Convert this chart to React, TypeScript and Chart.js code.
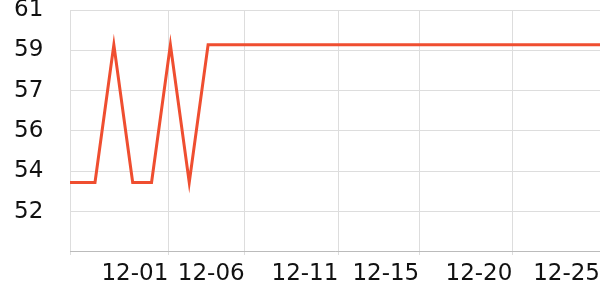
import React, { useEffect, useRef } from "react";
import { Chart, registerables } from "chart.js";

Chart.register(...registerables);

// sample index (one sample per step) and value
const sampleIndex = [0, 1, 2, 3, 4, 5, 6, 7, 8, 9, 10, 11, 12, 13, 14, 15, 16, 17, 18, 19, 20, 21, 22, 23, 24, 25, 26, 27, 28, 29];
const sampleValues = [
  53.3, 53.3, 53.3, 59.45, 53.3, 53.3, 59.45, 53.3, 59.45, 59.45,
  59.45, 59.45, 59.45, 59.45, 59.45, 59.45, 59.45, 59.45, 59.45, 59.45,
  59.45, 59.45, 59.45, 59.45, 59.45, 59.45, 59.45, 59.45, 59.45, 59.45,
];

// x axis: visible window and date ticks (in sample-index units)
const xWindow = [0.674, 28.79];
const xTickValues = [0.674, 5.89, 9.94, 14.91, 19.2, 24.14, 28.79];
const xTickLabels = ["", "12-01", "12-06", "12-11", "12-15", "12-20", "12-25"];

// y axis
const yWindow = [50.2, 61];
const yTickValues = [50.2, 52, 53.8, 55.6, 57.4, 59.2, 61];
const yTickLabels = ["", "52", "54", "56", "57", "59", "61"];

export default function App() {
  const ref = useRef<HTMLCanvasElement | null>(null);

  useEffect(() => {
    if (!ref.current) return;
    const chart = new Chart(ref.current, {
      type: "line",
      data: {
        datasets: [
          {
            data: sampleIndex.map((x, i) => ({ x, y: sampleValues[i] })),
            borderColor: "#ef4e30",
            borderWidth: 3,
            pointRadius: 0,
            tension: 0,
            fill: false,
          },
        ],
      },
      options: {
        animation: false,
        responsive: false,
        maintainAspectRatio: false,
        layout: { padding: { left: 14, right: 0, top: 0, bottom: 6 } },
        plugins: { legend: { display: false }, tooltip: { enabled: false } },
        scales: {
          x: {
            type: "linear",
            min: xWindow[0],
            max: xWindow[1],
            afterBuildTicks: (scale: any) => {
              scale.ticks = xTickValues.map((v) => ({ value: v }));
            },
            ticks: {
              autoSkip: false,
              maxRotation: 0,
              align: "end",
              padding: 0,
              color: "#111",
              font: { family: "DejaVu Sans", size: 23, lineHeight: 1.696 },
              callback: (_v: any, i: number) => xTickLabels[i],
            },
            grid: { color: "#dddddd", tickLength: 3, drawTicks: true },
            border: { color: "#bbbbbb" },
          },
          y: {
            type: "linear",
            min: yWindow[0],
            max: yWindow[1],
            afterBuildTicks: (scale: any) => {
              scale.ticks = yTickValues.map((v) => ({ value: v }));
            },
            afterFit: (scale: any) => {
              scale.width = 56;
            },
            ticks: {
              autoSkip: false,
              padding: 0,
              crossAlign: "far",
              color: "#111",
              font: { family: "DejaVu Sans", size: 23, lineHeight: 0.87 },
              callback: (_v: any, i: number) => yTickLabels[i],
            },
            grid: { color: "#dddddd", drawTicks: false },
            border: { display: false },
          },
        },
      },
    });
    return () => chart.destroy();
  }, []);

  return (
    <div style={{ position: "absolute", left: 0, top: 0, width: 600, height: 300 }}>
      <canvas ref={ref} width={600} height={300} />
    </div>
  );
}
